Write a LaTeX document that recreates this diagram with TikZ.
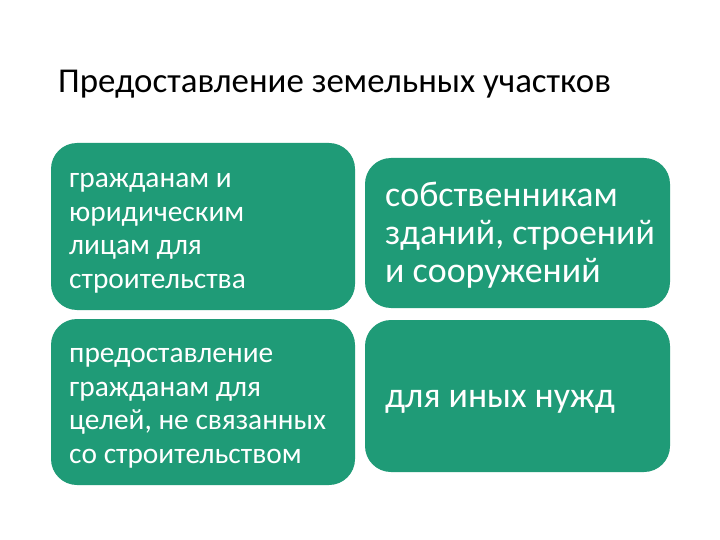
\documentclass[tikz,border=0pt]{standalone}
\usepackage{fontspec}
\setmainfont{Carlito}
\definecolor{boxgreen}{RGB}{31,155,119}
\begin{document}
\begin{tikzpicture}[x=1bp,y=-1bp,
  greenbox/.style={fill=boxgreen,draw=none,rounded corners=26bp},
  smalltxt/.style={anchor=base west,text=white,inner sep=0pt,align=left,font=\fontsize{29.5}{33.5}\selectfont},
  bigtxt/.style={anchor=base west,text=white,inner sep=0pt,align=left,font=\fontsize{36}{38.5}\selectfont},
  titletxt/.style={anchor=base west,text=black,inner sep=0pt,font=\fontsize{35}{40}\selectfont}]
\useasboundingbox (0,0) rectangle (720,540);
\fill[white] (0,0) rectangle (720,540);
\node[titletxt] (title) at (58,93) {Предоставление земельных участков};
\fill[greenbox] (51,143) rectangle (355,310);
\fill[greenbox] (365,158) rectangle (670,308);
\fill[greenbox] (51,319) rectangle (355,485);
\fill[greenbox] (365,320) rectangle (670,472);
\node[smalltxt] (t1) at (69,288) {гражданам и\\юридическим\\лицам для\\строительства};
\node[bigtxt] (t2) at (385,283) {собственникам\\зданий, строений\\и сооружений};
\node[smalltxt] (t3) at (69,463) {предоставление\\гражданам для\\целей, не связанных\\со строительством};
\node[bigtxt] (t4) at (385,407) {для иных нужд};
\end{tikzpicture}
\end{document}
